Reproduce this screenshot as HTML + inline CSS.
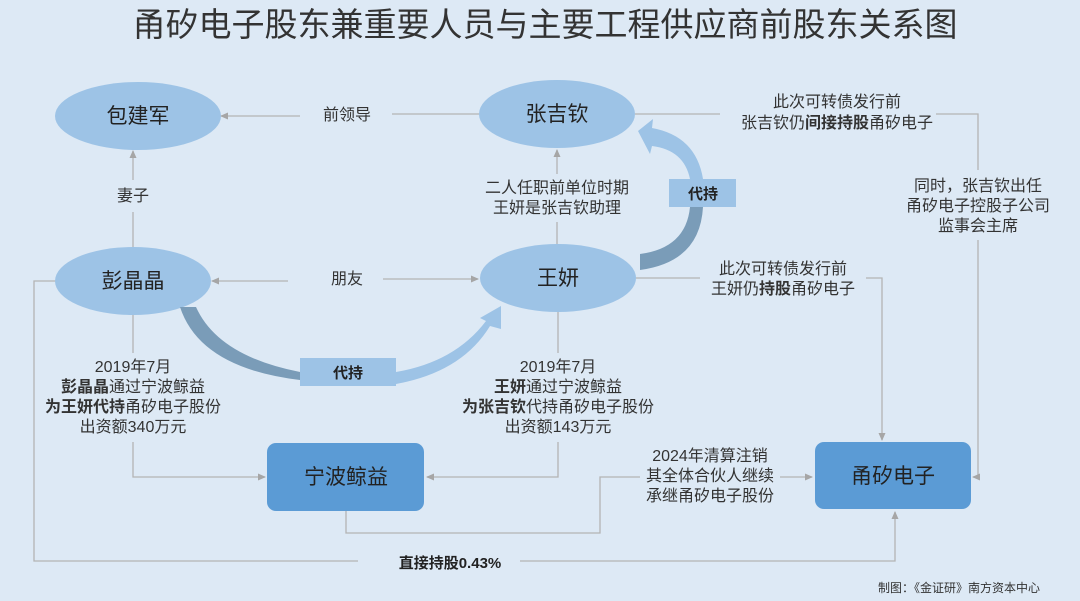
<!DOCTYPE html>
<html><head><meta charset="utf-8"><style>
html,body{margin:0;padding:0;background:#dde9f5;}
svg{display:block;font-family:"Liberation Sans","Noto Sans CJK SC",sans-serif;}
</style></head><body>
<svg width="1080" height="601" viewBox="0 0 1080 601" xmlns="http://www.w3.org/2000/svg">
<defs><marker id="a" markerWidth="8" markerHeight="8" refX="7" refY="4" orient="auto" markerUnits="userSpaceOnUse"><path d="M0,0.5 L8,4 L0,7.5 Z" fill="#a6a6a6"/></marker></defs>
<rect width="1080" height="601" fill="#dde9f5"/>
<text x="545" y="36" font-size="33" text-anchor="middle" fill="#333">甬矽电子股东兼重要人员与主要工程供应商前股东关系图</text>
<g stroke="#b4b4b4" stroke-width="1.3" fill="none">
<line x1="479" y1="114" x2="392" y2="114"/><line x1="300" y1="116" x2="221" y2="116" marker-end="url(#a)"/>
<line x1="133" y1="247" x2="133" y2="212"/><line x1="133" y1="180" x2="133" y2="151" marker-end="url(#a)"/>
<line x1="288" y1="281" x2="212" y2="281" marker-end="url(#a)"/><line x1="383" y1="279" x2="478" y2="279" marker-end="url(#a)"/>
<line x1="557" y1="244" x2="557" y2="222"/><line x1="557" y1="174" x2="557" y2="150" marker-end="url(#a)"/>
<line x1="133" y1="315" x2="133" y2="353"/><polyline points="133,442 133,477 265,477" marker-end="url(#a)"/>
<line x1="558" y1="312" x2="558" y2="353"/><polyline points="558,442 558,477 427,477" marker-end="url(#a)"/>
<polyline points="346,511 346,533 600,533 600,477 640,477"/><line x1="780" y1="477" x2="812" y2="477" marker-end="url(#a)"/>
<line x1="636" y1="278" x2="700" y2="278"/><polyline points="866,278 882,278 882,440" marker-end="url(#a)"/>
<line x1="635" y1="114" x2="720" y2="114"/><polyline points="936,114 978,114 978,170"/><polyline points="978,240 978,477 973,477" marker-end="url(#a)"/>
<polyline points="56,281 34,281 34,561 358,561"/><polyline points="520,561 895,561 895,512" marker-end="url(#a)"/>
</g>
<ellipse cx="138" cy="116" rx="83" ry="34" fill="#9dc3e6"/>
<ellipse cx="557" cy="114" rx="78" ry="34" fill="#9dc3e6"/>
<ellipse cx="133" cy="281" rx="78" ry="34" fill="#9dc3e6"/>
<ellipse cx="558" cy="278" rx="78" ry="34" fill="#9dc3e6"/>
<rect x="267" y="443" width="157" height="68" rx="9" fill="#5b9bd5"/>
<rect x="815" y="442" width="156" height="67" rx="9" fill="#5b9bd5"/>
<path d="M180,307 Q200,368 300,380 L300,372 Q218,356 196,307 Z" fill="#7a9cb8"/>
<path d="M396,384 Q462,372 490,326 L501,329 L501,306 L480,318 L486,321 Q455,362 396,372 Z" fill="#9dc3e6"/>
<path d="M640,254 L640,270 Q700,262 703,207 L690,207 Q686,248 640,254 Z" fill="#7a9cb8"/>
<path d="M703,179 L690,179 Q684,150 652,146 L650,154 L638,131 L653,119 L652,128 Q696,136 703,179 Z" fill="#9dc3e6"/>
<rect x="300" y="358" width="96" height="28" fill="#9dc3e6"/>
<rect x="669" y="179" width="67" height="28" fill="#9dc3e6"/>
<g font-size="15" fill="#222" font-weight="bold" text-anchor="middle">
<text x="348" y="378">代持</text><text x="703" y="199">代持</text>
</g>
<g font-size="21" fill="#222" text-anchor="middle">
<text x="138" y="123">包建军</text><text x="557" y="121">张吉钦</text>
<text x="133" y="288">彭晶晶</text><text x="558" y="285">王妍</text>
<text x="346" y="484">宁波鲸益</text><text x="893" y="483">甬矽电子</text>
</g>
<g font-size="16" fill="#333" text-anchor="middle">
<text x="347" y="120">前领导</text>
<text x="133" y="201">妻子</text>
<text x="347" y="284">朋友</text>
<text x="557" y="193">二人任职前单位时期</text><text x="557" y="213">王妍是张吉钦助理</text>
<text x="133" y="372">2019年7月</text>
<text x="133" y="392"><tspan font-weight="bold">彭晶晶</tspan>通过宁波鲸益</text>
<text x="133" y="412"><tspan font-weight="bold">为王妍代持</tspan>甬矽电子股份</text>
<text x="133" y="432">出资额340万元</text>
<text x="558" y="372">2019年7月</text>
<text x="558" y="392"><tspan font-weight="bold">王妍</tspan>通过宁波鲸益</text>
<text x="558" y="412"><tspan font-weight="bold">为张吉钦</tspan>代持甬矽电子股份</text>
<text x="558" y="432">出资额143万元</text>
<text x="710" y="461">2024年清算注销</text><text x="710" y="481">其全体合伙人继续</text><text x="710" y="501">承继甬矽电子股份</text>
<text x="783" y="274">此次可转债发行前</text><text x="783" y="294">王妍仍<tspan font-weight="bold">持股</tspan>甬矽电子</text>
<text x="837" y="107">此次可转债发行前</text><text x="837" y="128">张吉钦仍<tspan font-weight="bold">间接持股</tspan>甬矽电子</text>
<text x="978" y="191">同时，张吉钦出任</text><text x="978" y="211">甬矽电子控股子公司</text><text x="978" y="231">监事会主席</text>
<text x="450" y="568" font-weight="bold" font-size="15" fill="#222">直接持股0.43%</text>
</g>
<text x="1040" y="592" font-size="12" fill="#333" text-anchor="end">制图：《金证研》南方资本中心</text>
</svg>
</body></html>
